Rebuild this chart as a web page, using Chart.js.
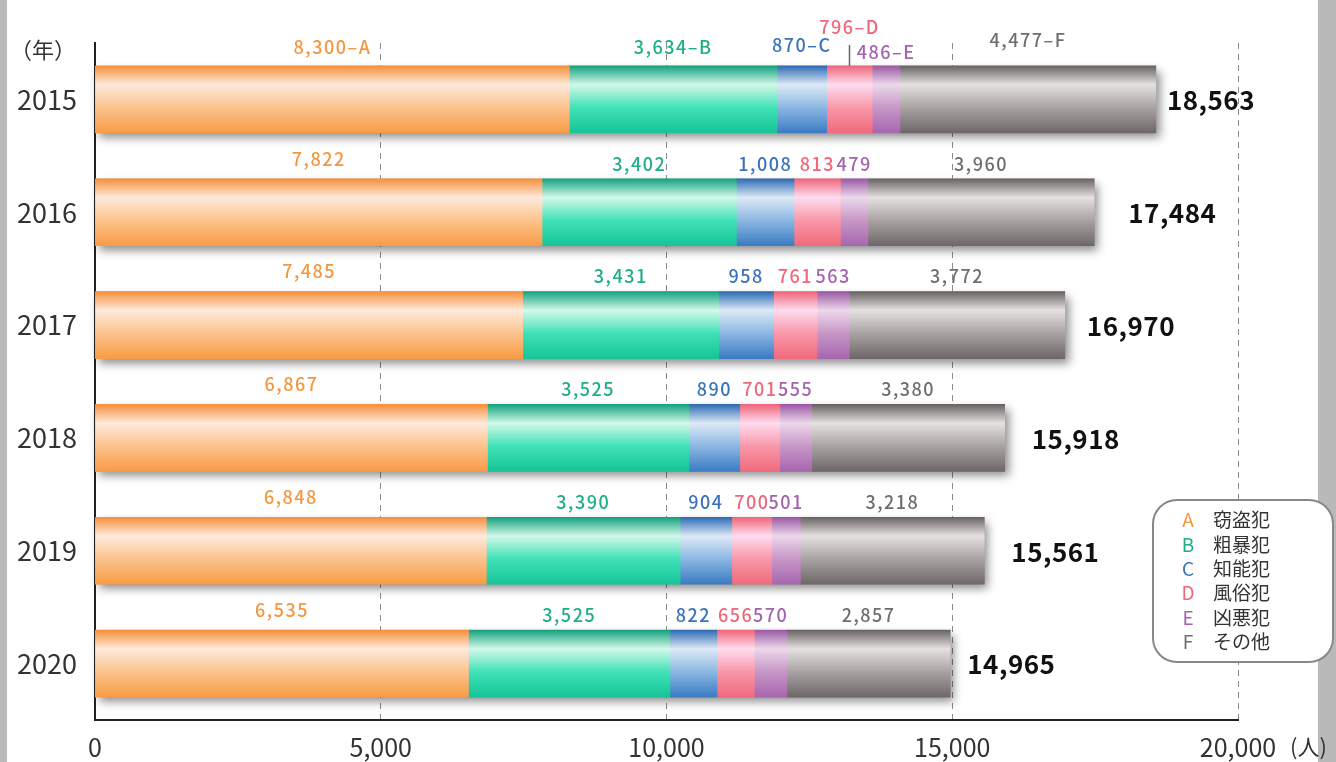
<!DOCTYPE html>
<html lang="ja">
<head>
    <meta charset="UTF-8">
    <title>罪種別 検挙人員の推移</title>
    <style>
        html, body { margin: 0; padding: 0; background: #fff; }
        #wrap { width: 1336px; height: 762px; }
    </style>
</head>
<body>
    <div id="wrap">
        <canvas id="crimeChart" width="1336" height="762"></canvas>
    </div>

    <script src="https://cdn.jsdelivr.net/npm/chart.js"></script>
    <script>
        // data (persons)
        const years = ['2015', '2016', '2017', '2018', '2019', '2020'];
        const theft = [8300, 7822, 7485, 6867, 6848, 6535];          // A
        const violent = [3634, 3402, 3431, 3525, 3390, 3525];        // B
        const intellectual = [870, 1008, 958, 890, 904, 822];        // C
        const moral = [796, 813, 761, 701, 700, 656];                // D
        const heinous = [486, 479, 563, 555, 501, 570];              // E
        const other = [4477, 3960, 3772, 3380, 3218, 2857];          // F
        const totals = [18563, 17484, 16970, 15918, 15561, 14965];
        const xTicks = [0, 5000, 10000, 15000, 20000];
        const legendKeys = ['A', 'B', 'C', 'D', 'E', 'F'];
        const legendNames = ['窃盗犯', '粗暴犯', '知能犯', '風俗犯', '凶悪犯', 'その他'];

        const FONT = "'Noto Sans CJK JP', 'Noto Sans', sans-serif";
        const BAR_H = 67;

        // label colours and cylinder gradient stops per series
        const textColors = ['#f5973f', '#1fae88', '#3a73bb', '#f0677a', '#a363ae', '#6e6e6e'];
        const gradStops = [
            ['#f6903a', '#fdeadc', '#fbc38c', '#f89b46'],
            ['#14a37d', '#d3f8ea', '#40e2b7', '#16c497'],
            ['#2e6bb4', '#dde9f6', '#8cb8e2', '#3a7bc3'],
            ['#ef667a', '#ffdcef', '#f898a9', '#f06a7b'],
            ['#9b59a5', '#ecd8ea', '#c797c7', '#a766af'],
            ['#696363', '#e5e1e1', '#a9a3a3', '#6d6767']
        ];

        function barFill(stops) {
            return function (c) {
                const y = c.chart.scales && c.chart.scales.y;
                if (!y || c.dataIndex === undefined) return stops[0];
                const mid = y.getPixelForValue(c.dataIndex);
                if (!isFinite(mid)) return stops[0];
                const g = c.chart.ctx.createLinearGradient(0, mid - BAR_H / 2, 0, mid + BAR_H / 2);
                g.addColorStop(0, stops[0]);
                g.addColorStop(0.28, stops[1]);
                g.addColorStop(0.62, stops[2]);
                g.addColorStop(1, stops[3]);
                return g;
            };
        }

        const fmt = v => v.toLocaleString('en-US');

        // how far above the bar top each value label sits
        function labelLift(row, ds) {
            if (row === 0) return [19, 19, 21, 39, 14, 26][ds];
            return ds === 0 ? 20 : 15;
        }
        // gap between bar end and the total label, per row
        const totalGap = [11, 34, 22, 27, 27, 17];

        // white page + grey frame strips
        const framePlugin = {
            id: 'frame',
            beforeDraw(chart) {
                const ctx = chart.ctx;
                ctx.save();
                ctx.fillStyle = '#fff';
                ctx.fillRect(0, 0, chart.width, chart.height);
                ctx.fillStyle = '#b9b9b9';
                ctx.fillRect(0, 0, 7, chart.height);
                ctx.fillRect(1318, 0, 18, chart.height);
                ctx.restore();
            }
        };

        // soft shadow under each whole bar
        const shadowPlugin = {
            id: 'barShadow',
            beforeDatasetsDraw(chart) {
                const { ctx, scales: { x, y } } = chart;
                ctx.save();
                ctx.shadowColor = 'rgba(0,0,0,0.45)';
                ctx.shadowBlur = 9;
                ctx.shadowOffsetX = 4;
                ctx.shadowOffsetY = 5;
                ctx.fillStyle = '#999';
                totals.forEach((t, i) => {
                    const x0 = x.getPixelForValue(0);
                    const x1 = x.getPixelForValue(t);
                    const yc = y.getPixelForValue(i);
                    ctx.fillRect(x0, yc - BAR_H / 2, x1 - x0, BAR_H);
                });
                ctx.restore();
            }
        };

        // value labels above segments + totals to the right
        const labelPlugin = {
            id: 'valueLabels',
            afterDatasetsDraw(chart) {
                const ctx = chart.ctx;
                ctx.save();
                ctx.textAlign = 'center';
                ctx.textBaseline = 'middle';
                ctx.font = '500 18px ' + FONT;
                if ('letterSpacing' in ctx) ctx.letterSpacing = '1.5px';
                chart.data.datasets.forEach((ds, di) => {
                    const meta = chart.getDatasetMeta(di);
                    meta.data.forEach((bar, i) => {
                        const cx = (bar.x + bar.base) / 2;
                        const top = bar.y - bar.height / 2;
                        const ly = top - labelLift(i, di);
                        let txt = fmt(ds.data[i]);
                        if (i === 0) txt += '–' + legendKeys[di];
                        ctx.fillStyle = textColors[di];
                        ctx.fillText(txt, cx, ly);
                        if (i === 0 && di === 3) {
                            ctx.strokeStyle = '#666';
                            ctx.lineWidth = 1.5;
                            ctx.beginPath();
                            ctx.moveTo(cx, ly + 18);
                            ctx.lineTo(cx, top);
                            ctx.stroke();
                        }
                    });
                });

                if ('letterSpacing' in ctx) ctx.letterSpacing = '0.5px';
                const last = chart.getDatasetMeta(chart.data.datasets.length - 1);
                ctx.textAlign = 'left';
                ctx.fillStyle = '#111';
                ctx.font = 'bold 26px ' + FONT;
                last.data.forEach((bar, i) => {
                    ctx.fillText(fmt(totals[i]), bar.x + totalGap[i], bar.y + 1);
                });
                ctx.restore();
            }
        };

        // unit captions and the A-F legend box
        const extrasPlugin = {
            id: 'extras',
            afterDraw(chart) {
                const ctx = chart.ctx;
                ctx.save();
                ctx.fillStyle = '#333';
                ctx.textBaseline = 'middle';
                ctx.textAlign = 'left';
                ctx.font = '22px ' + FONT;
                ctx.fillText('（年）', 10, 50);
                ctx.fillText('(人)', 1290, 747);

                // legend
                ctx.beginPath();
                ctx.roundRect(1153, 500, 180, 162, 24);
                ctx.fillStyle = '#fff';
                ctx.fill();
                ctx.strokeStyle = '#888';
                ctx.lineWidth = 2;
                ctx.stroke();

                ctx.font = '19px ' + FONT;
                legendKeys.forEach((k, i) => {
                    const ly = 520 + i * 24.4;
                    ctx.textAlign = 'center';
                    ctx.fillStyle = textColors[i];
                    ctx.fillText(k, 1188, ly);
                    ctx.textAlign = 'left';
                    ctx.fillStyle = '#333';
                    ctx.fillText(legendNames[i], 1213, ly);
                });
                ctx.restore();
            }
        };

        const seriesData = [theft, violent, intellectual, moral, heinous, other];

        new Chart(document.getElementById('crimeChart'), {
            type: 'bar',
            data: {
                labels: years,
                datasets: seriesData.map((d, i) => ({
                    label: legendNames[i],
                    data: d,
                    backgroundColor: barFill(gradStops[i]),
                    borderWidth: 0,
                    barThickness: BAR_H
                }))
            },
            options: {
                indexAxis: 'y',
                responsive: false,
                animation: false,
                devicePixelRatio: 1,
                layout: { padding: { top: 43, right: 98, bottom: 0, left: 0 } },
                plugins: {
                    legend: { display: false },
                    tooltip: { enabled: false }
                },
                scales: {
                    x: {
                        stacked: true,
                        min: 0,
                        max: 20000,
                        afterBuildTicks: s => { s.ticks = xTicks.map(v => ({ value: v })); },
                        afterFit: s => { s.height = 42; },
                        ticks: {
                            callback: v => fmt(v),
                            color: '#333',
                            font: { family: FONT, size: 25 },
                            padding: 12,
                            maxRotation: 0
                        },
                        grid: {
                            color: c => (c.tick && c.tick.value === 0) ? 'rgba(0,0,0,0)' : '#8a8a8a',
                            lineWidth: 1,
                            drawTicks: false
                        },
                        border: { color: '#222', width: 2, dash: [6, 5] }
                    },
                    y: {
                        stacked: true,
                        afterFit: s => { s.width = 95; },
                        ticks: {
                            color: '#333',
                            font: { family: FONT, size: 27 },
                            padding: 18
                        },
                        grid: { display: false, drawTicks: false },
                        border: { color: '#222', width: 2 }
                    }
                }
            },
            plugins: [framePlugin, shadowPlugin, labelPlugin, extrasPlugin]
        });
    </script>
</body>
</html>
